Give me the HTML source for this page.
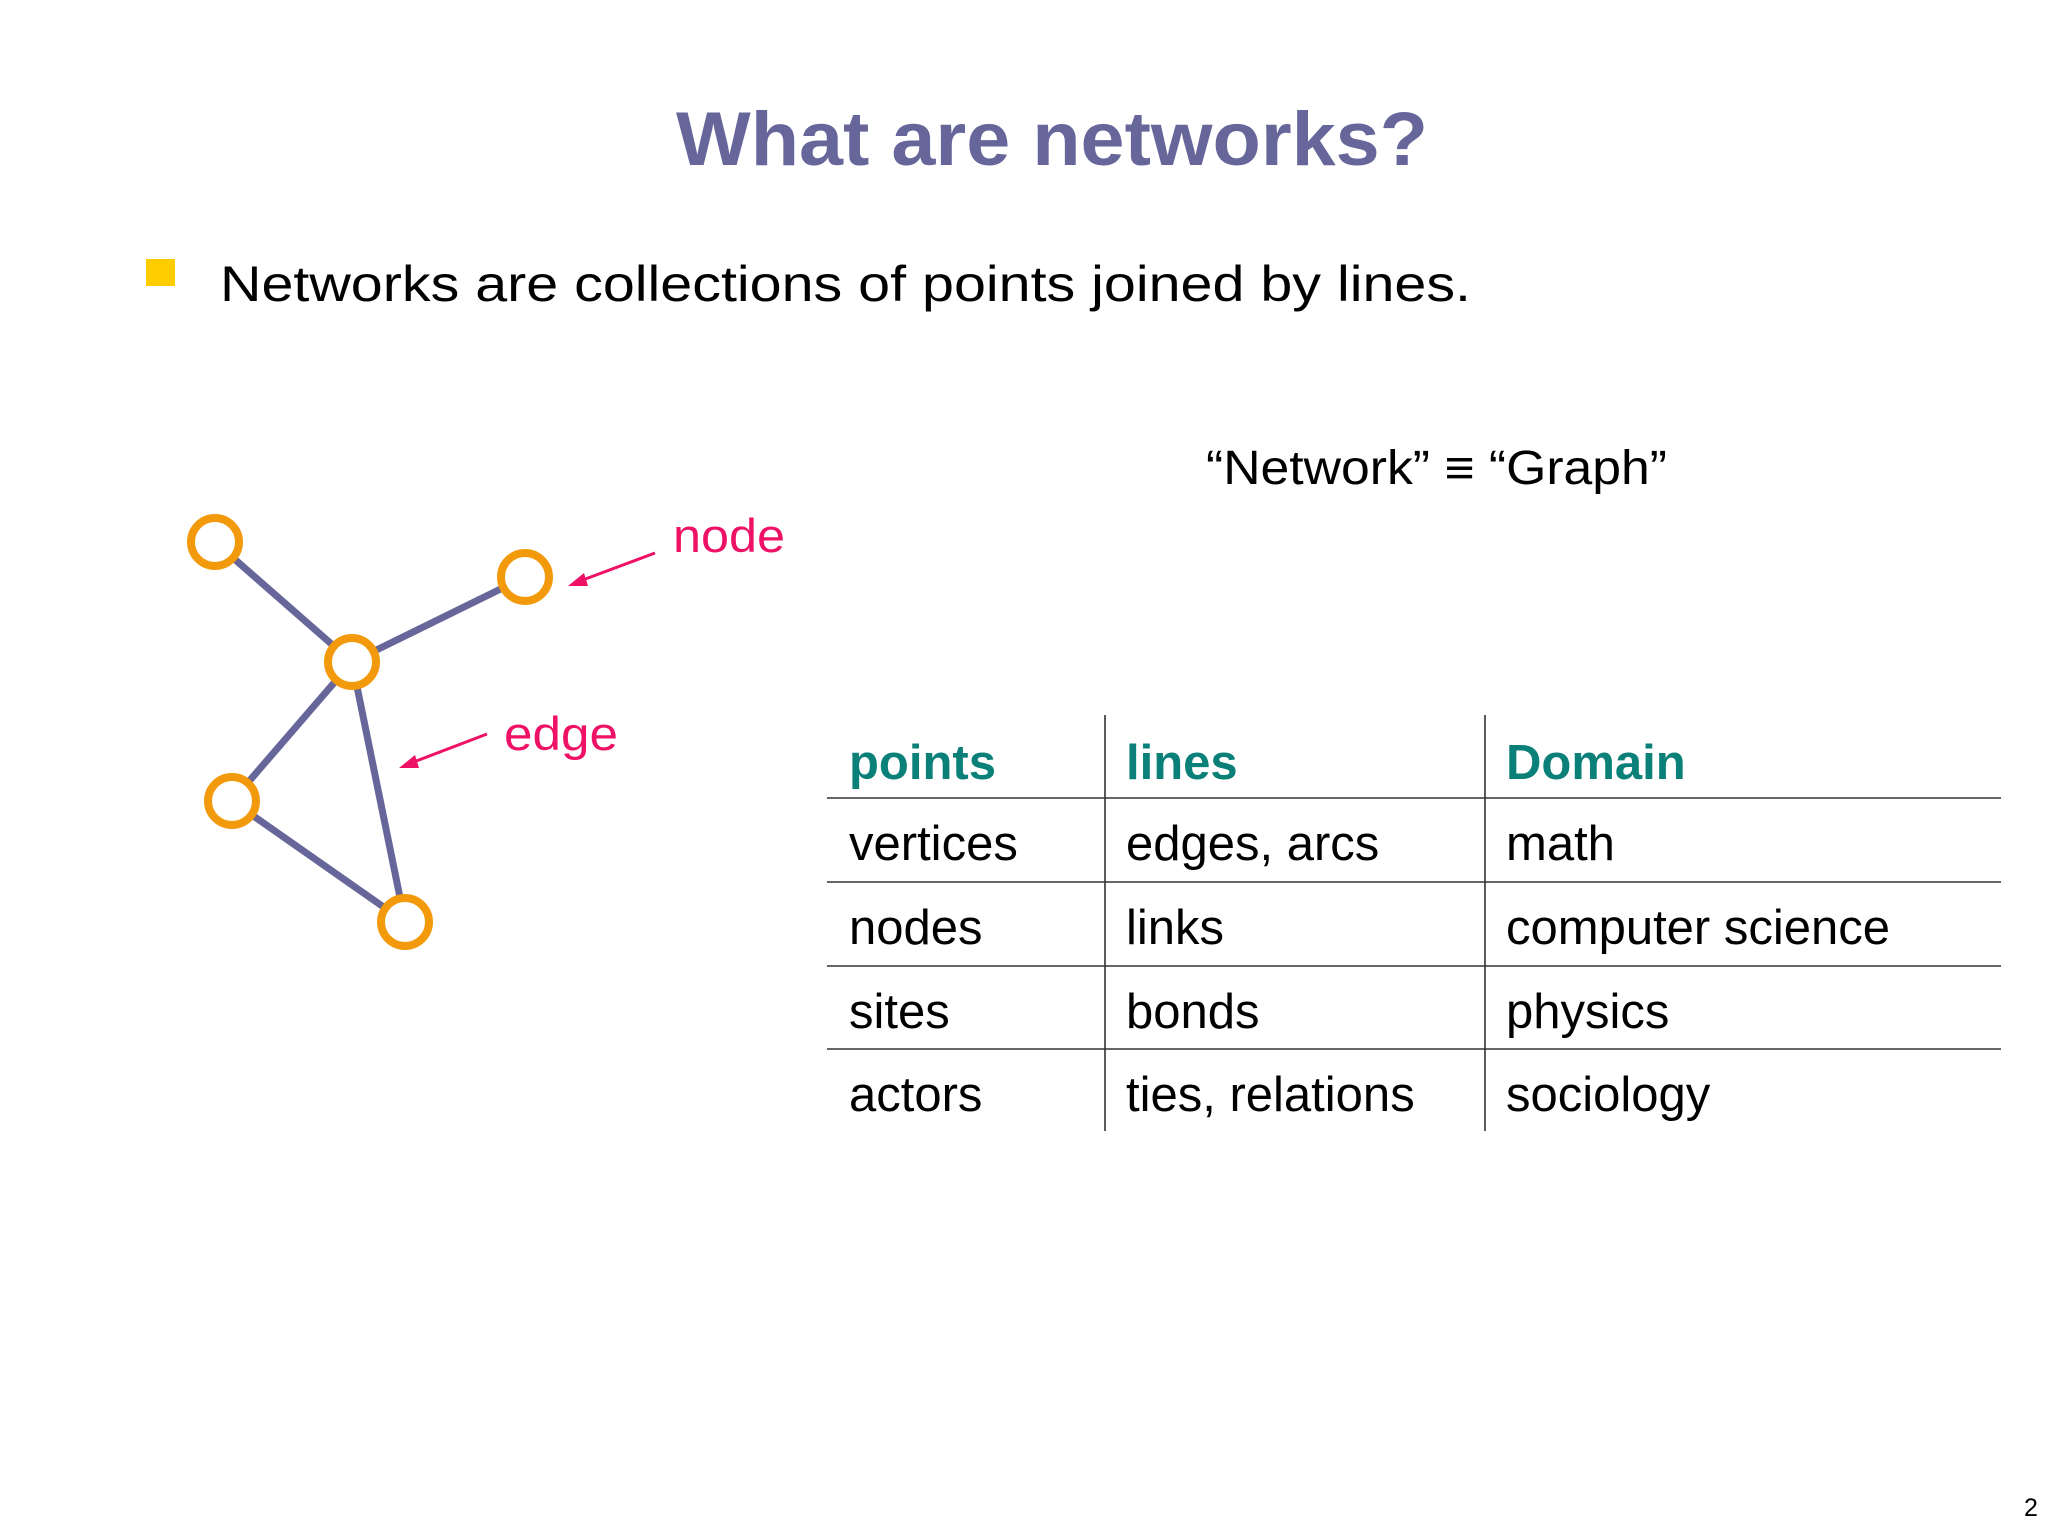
<!DOCTYPE html>
<html><head><meta charset="utf-8"><style>html,body{margin:0;padding:0;background:#fff}svg{display:block}text{font-family:"Liberation Sans",Arial,sans-serif}</style></head>
<body>
<svg width="2048" height="1536" viewBox="0 0 2048 1536" xmlns="http://www.w3.org/2000/svg">
<text x="1052" y="165" text-anchor="middle" font-size="76" font-weight="bold" fill="#66669a" textLength="752" lengthAdjust="spacingAndGlyphs">What are networks?</text>
<rect x="146" y="259" width="29" height="27" fill="#ffcc00"/>
<text x="220" y="301" font-size="50" fill="#000" textLength="1251" lengthAdjust="spacingAndGlyphs">Networks are collections of points joined by lines.</text>
<text x="1206" y="484" font-size="48" fill="#000" textLength="461" lengthAdjust="spacingAndGlyphs">“Network” ≡ “Graph”</text>
<text x="673" y="552" font-size="47" fill="#ee1166" textLength="112" lengthAdjust="spacingAndGlyphs">node</text>
<text x="504" y="750" font-size="47" fill="#ee1166" textLength="114" lengthAdjust="spacingAndGlyphs">edge</text>
<g stroke="#ee1166" stroke-width="3" fill="#ee1166">
<line x1="655" y1="553" x2="580" y2="581"/>
<polygon points="568,586 584,573 588,586" stroke="none"/>
<line x1="487" y1="734" x2="411" y2="763"/>
<polygon points="399,768 415,755 419,768" stroke="none"/>
</g>
<g stroke="#66669a" stroke-width="7">
<line x1="215" y1="542" x2="352" y2="662"/>
<line x1="352" y1="662" x2="525" y2="577"/>
<line x1="352" y1="662" x2="232" y2="801"/>
<line x1="352" y1="662" x2="405" y2="922"/>
<line x1="232" y1="801" x2="405" y2="922"/>
</g>
<g stroke="#f39a0c" stroke-width="8" fill="#fff">
<circle cx="215" cy="542" r="24"/>
<circle cx="525" cy="577" r="24"/>
<circle cx="352" cy="662" r="24"/>
<circle cx="232" cy="801" r="24"/>
<circle cx="405" cy="922" r="24"/>
</g>
<g stroke="#333" stroke-width="1.6">
<line x1="1105" y1="715" x2="1105" y2="1131"/>
<line x1="1485" y1="715" x2="1485" y2="1131"/>
<line x1="827" y1="798" x2="2001" y2="798"/>
<line x1="827" y1="882" x2="2001" y2="882"/>
<line x1="827" y1="966" x2="2001" y2="966"/>
<line x1="827" y1="1049" x2="2001" y2="1049"/>
</g>
<g font-size="49" font-weight="bold" fill="#0a8078">
<text x="849" y="779">points</text><text x="1126" y="779">lines</text><text x="1506" y="779">Domain</text>
</g>
<g font-size="49" fill="#000">
<text x="849" y="860">vertices</text><text x="1126" y="860">edges, arcs</text><text x="1506" y="860">math</text>
<text x="849" y="944">nodes</text><text x="1126" y="944">links</text><text x="1506" y="944">computer science</text>
<text x="849" y="1028">sites</text><text x="1126" y="1028">bonds</text><text x="1506" y="1028">physics</text>
<text x="849" y="1111">actors</text><text x="1126" y="1111">ties, relations</text><text x="1506" y="1111">sociology</text>
</g>
<text x="2024" y="1516" font-size="25" fill="#000">2</text>
</svg>
</body></html>
